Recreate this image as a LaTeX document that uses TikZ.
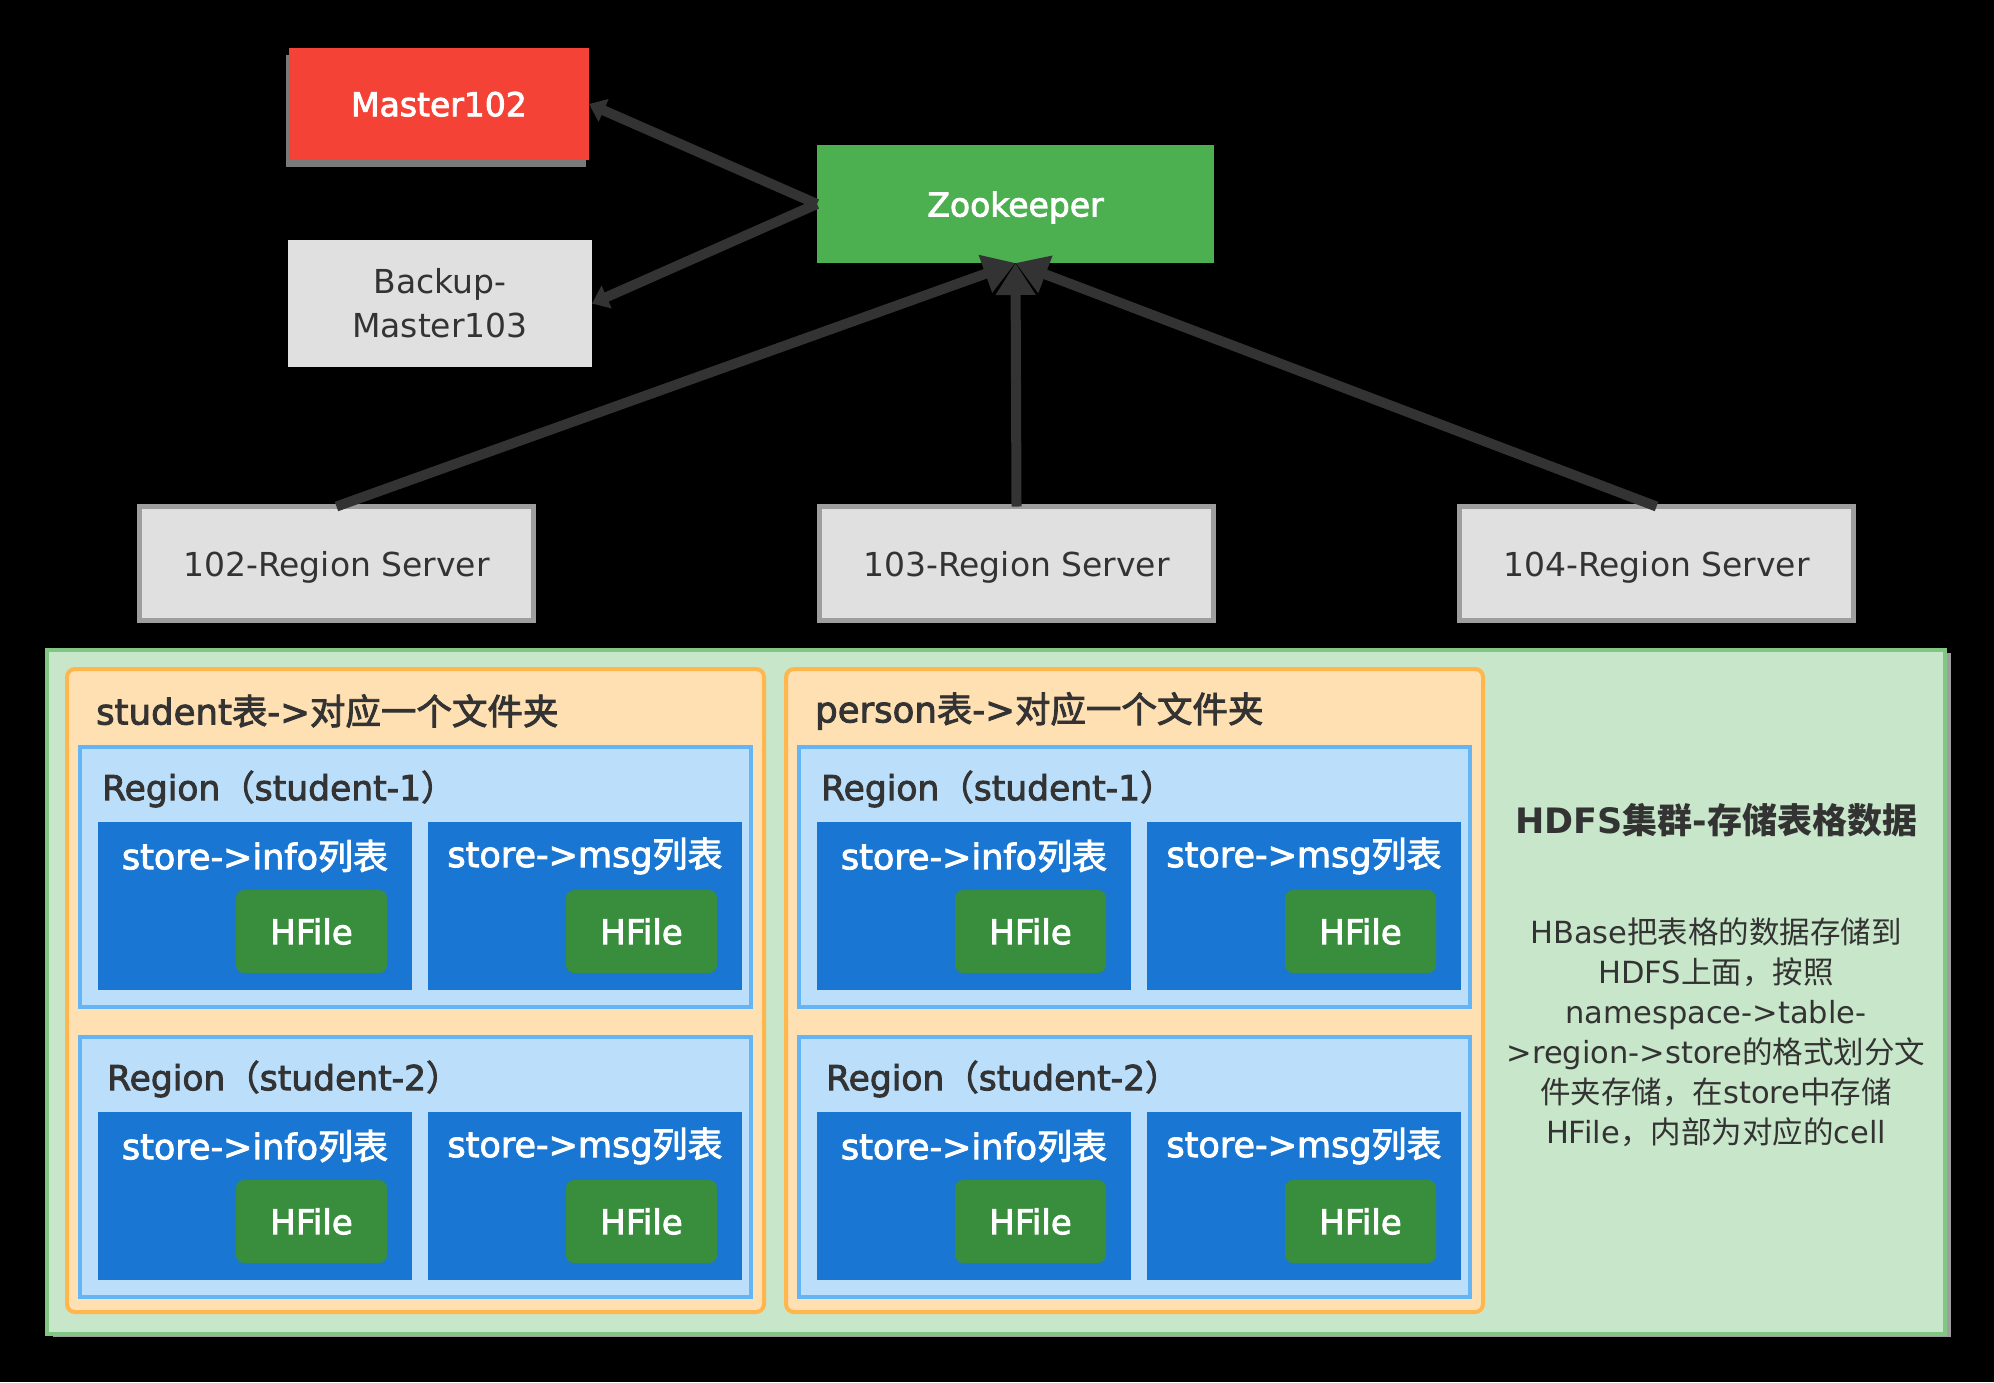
\documentclass[tikz,border=0pt]{standalone}
\usepackage{fontspec}
\usetikzlibrary{arrows.meta,shadows}
\setmainfont{DejaVu Sans}
\newfontfamily\latmed[FakeBold=2.5]{DejaVu Sans}
\newfontfamily\zhreg{Noto Sans CJK SC}
\newfontfamily\zhmed[FakeBold=2.5]{Noto Sans CJK SC}
\newcommand\zr[1]{{\zhreg #1}}
\newcommand\zm[1]{{\zhmed #1}}
\newcommand\zb[1]{{\zhreg\bfseries #1}}
\newcommand\setfs[2]{\fontsize{#1}{#2}\selectfont}
\definecolor{txtdark}{HTML}{333333}
\definecolor{mred}{HTML}{F44336}
\definecolor{zgreen}{HTML}{4CAF50}
\definecolor{bgray}{HTML}{E0E0E0}
\definecolor{rsline}{HTML}{9E9E9E}
\definecolor{linegray}{HTML}{333333}
\definecolor{hdfill}{HTML}{C8E6C9}
\definecolor{hdline}{HTML}{81C784}
\definecolor{orfill}{HTML}{FFE0B2}
\definecolor{orline}{HTML}{FFB74D}
\definecolor{rgfill}{HTML}{BBDEFB}
\definecolor{rgline}{HTML}{64B5F6}
\definecolor{stfill}{HTML}{1976D2}
\definecolor{hffill}{HTML}{388E3C}
\definecolor{shgray}{HTML}{7A7A7A}
\definecolor{shgray2}{HTML}{9E9E9E}
\begin{document}
\begin{tikzpicture}[x=1pt,y=-1pt,
  box/.style={anchor=north west, inner sep=0pt, outer sep=0pt},
  conn/.style={draw=linegray, line width=10pt},
  lbl/.style={inner sep=0pt, text=txtdark},
  wlbl/.style={inner sep=0pt, text=white},
  srv/.style={box, fill=bgray, draw=rsline, line width=5pt, minimum width=394pt, minimum height=114pt, text=txtdark, text depth=0pt, font=\setfs{33}{40}},
  tipbig/.style={-{Triangle[length=32pt,width=38pt]}},
  tipsmall/.style={-{Triangle[length=16pt,width=24pt]}},
]
\fill[black] (0,0) rectangle (1994,1382);
\useasboundingbox (0,0) rectangle (1994,1382);

% top part
\node[box, fill=mred, minimum width=300pt, minimum height=112pt, text=white, text depth=0pt, font=\setfs{33}{40}\latmed,
  general shadow={fill=shgray, shadow xshift=-3pt, shadow yshift=-7pt}] (master) at (289,48) {Master102};
\node[box, fill=zgreen, minimum width=397pt, minimum height=118pt, text=white, text depth=0pt, font=\setfs{33}{40}\latmed] (zoo) at (817,145) {Zookeeper};
\node[box, fill=bgray, minimum width=304pt, minimum height=127pt, text=txtdark, align=center, font=\setfs{33}{44}] (backup) at (288,240) {Backup-\\Master103};
\node[srv] (rs102) at (139.5,506.5) {102-Region Server};
\node[srv] (rs103) at (819.5,506.5) {103-Region Server};
\node[srv] (rs104) at (1459.5,506.5) {104-Region Server};

\draw[conn, tipsmall] (zoo.west) -- (master.east);
\draw[conn, tipsmall] (zoo.west) -- (backup.east);
\draw[conn, tipbig] (rs102.north) -- (zoo.south);
\draw[conn, tipbig] (rs103.north) -- (zoo.south);
\draw[conn, tipbig] (rs104.north) -- (zoo.south);

% HDFS part
\node[box, fill=hdfill, draw=hdline, line width=4pt, minimum width=1898pt, minimum height=684pt,
  general shadow={fill=shgray2, shadow xshift=6pt, shadow yshift=-3pt}] (hdfs) at (47,650) {};

\foreach \c/\dx/\tn in {L/0/student, R/719/person}{
  \node[box, fill=orfill, draw=orline, line width=4pt, rounded corners=8pt, minimum width=697pt, minimum height=643pt] (tbl\c) at (67+\dx,669) {};
  \node[lbl, anchor=west, font=\setfs{35.5}{40}\latmed] (tblt\c) at (96+\dx,711) {\tn\zm{表}->\zm{对应一个文件夹}};
  \foreach \r/\dy/\rx in {1/0/102, 2/290/107}{
    \node[box, fill=rgfill, draw=rgline, line width=4pt, minimum width=671pt, minimum height=260pt] (rg\c\r) at (80+\dx,747+\dy) {};
    \node[lbl, anchor=west, font=\setfs{34.5}{40}\latmed] (rgt\c\r) at (\rx+\dx,789+\dy) {Region\zm{（}student-\r\zm{）}};
    \foreach \s/\sx/\hx/\sn in {i/98/236/info, m/428/566/msg}{
      \node[box, fill=stfill, minimum width=314pt, minimum height=168pt] (st\c\r\s) at (\sx+\dx,822+\dy) {};
      \node[wlbl, font=\setfs{35}{40}\latmed] (stt\c\r\s) at ([yshift=-34pt]st\c\r\s.north) {store->\sn\zm{列表}};
      \node[box, fill=hffill, rounded corners=8pt, minimum width=151pt, minimum height=83pt, text=white, font=\setfs{34}{40}\latmed] (hf\c\r\s) at (\hx+\dx,890+\dy) {HFile};
    }
  }
}

\node[lbl, font=\setfs{35}{40}\bfseries] (hdfst) at (1716,820) {HDFS\zb{集群}-\zb{存储表格数据}};
\node[lbl, align=center, font=\setfs{30.5}{40}] (desc) at (1716,1032) {HBase\zr{把表格的数据存储到}\\HDFS\zr{上面，按照}\\namespace->table-\\>region->store\zr{的格式划分文}\\\zr{件夹存储，在}store\zr{中存储}\\HFile\zr{，内部为对应的}cell};
\end{tikzpicture}
\end{document}
